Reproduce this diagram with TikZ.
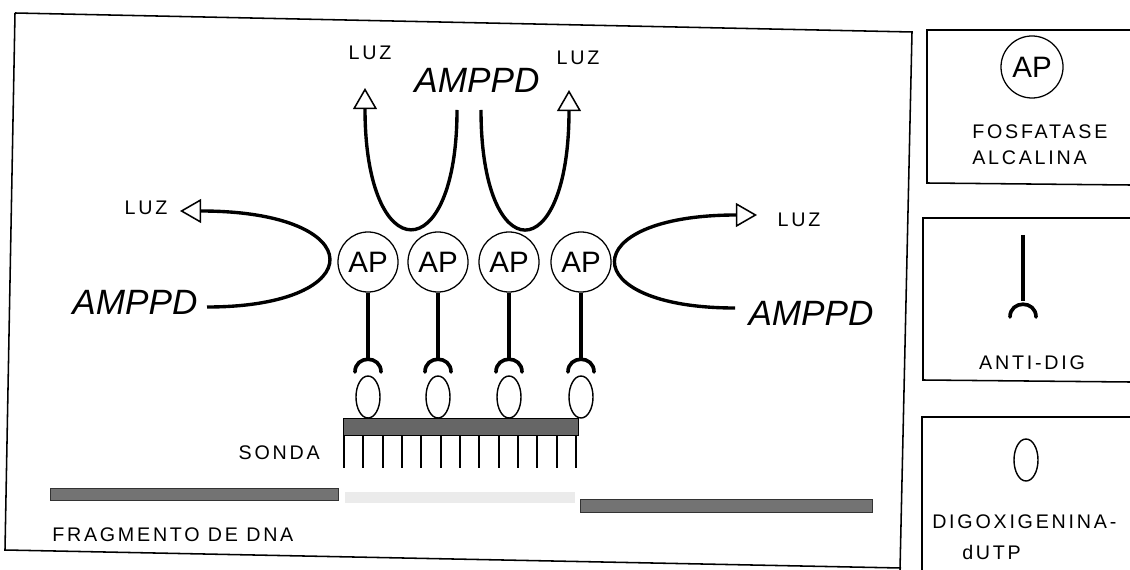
\documentclass[tikz,border=0pt]{standalone}
\usepackage{fontspec}
\setmainfont{Liberation Sans}
\newfontfamily\lblfont[LetterSpace=14]{Liberation Sans}
\usetikzlibrary{arrows.meta,positioning,shapes.geometric}

\begin{document}
\begin{tikzpicture}[x=0.025cm,y=-0.025cm,>={Triangle[open,length=15pt,width=17pt,line width=1.1pt]},
  ap/.style={circle,draw,line width=0.9pt,minimum size=1.5cm,inner sep=0pt,font=\fontsize{21}{21}\selectfont},
  dig/.style={ellipse,draw,line width=1pt,minimum width=0.6cm,minimum height=1.05cm,inner sep=0pt},
  lbl/.style={inner sep=0pt,font=\lblfont\fontsize{14}{19}\selectfont},
  sub/.style={inner sep=0pt,font=\fontsize{25}{25}\selectfont\itshape},
  wire/.style={line width=2.4pt},
  cup/.style={line width=2.6pt,line cap=round}]
\useasboundingbox (0,0) rectangle (1130,570);
% frames
\draw[line width=1.1pt] (15,13) -- (912,32) -- (900,570);
\draw[line width=1.1pt] (15,13) -- (5,550) -- (901,568);
\draw[line width=1.1pt] (1130,30) -- (927,30) -- (927,183) -- (1130,185);
\draw[line width=1.1pt] (1130,218) -- (923,218) -- (923,380) -- (1130,382);
\draw[line width=1.1pt] (1130,417) -- (922,417) -- (922,570);
% enzyme, antibody, label
\foreach \i/\x in {1/368,2/438,3/509,4/581}{
  \node[ap] (ap\i) at (\x,262) {AP};
  \coordinate (ab\i) at (\x,358);
  \draw[wire] (ap\i) -- (ab\i);
  \draw[cup] ({\x-13},372) .. controls ({\x-13},355) and ({\x+13},355) .. ({\x+13},372);
  \node[dig] (dig\i) at (\x,397) {};
}
% probe
\fill[black!60,draw=black] (343,418) rectangle (578,435);
\foreach \k in {0,...,12}
  \draw[line width=1.4pt] ({344+\k*19.33},435) -- ++(0,33);
\node[lbl,anchor=east] (sonda) at (320,453) {SONDA};
% DNA
\fill[black!55,draw=black!80] (50,488) rectangle (338,500);
\fill[black!8] (345,492) rectangle (575,503);
\fill[black!55,draw=black!80] (580,499) rectangle (872,512);
\node[lbl,anchor=west] (frag) at (52,535) {FRAGMENTO DE DNA};
% substrate and light
\node[sub] (amppdL) at (135,302) {AMPPD};
\node[sub] (amppdT) at (477,80) {AMPPD};
\node[sub] (amppdR) at (811,313) {AMPPD};
\node[lbl] (luzL) at (146,208) {LUZ};
\node[lbl] (luzT1) at (370,53) {LUZ};
\node[lbl] (luzT2) at (578,58) {LUZ};
\node[lbl] (luzR) at (799,220) {LUZ};
\coordinate (sL) at (207,307);
\coordinate (tL) at (180,211);
\coordinate (sT1) at (457,110);
\coordinate (tT1) at (365,88);
\coordinate (sT2) at (481,110);
\coordinate (tT2) at (569,90);
\coordinate (sR) at (735,308);
\coordinate (tR) at (757,215);
\draw[wire,->] (sL) .. controls (372,307) and (372,211) .. (tL);
\draw[wire,->] (sT1) .. controls (457,270) and (365,270) .. (tT1);
\draw[wire,->] (sT2) .. controls (481,270) and (569,270) .. (tT2);
\draw[wire,->] (sR) .. controls (574,308) and (574,215) .. (tR);
% key
\node[ap,minimum size=1.55cm] (apkey) at (1032,67) {AP};
\node[lbl,align=left,anchor=north west] (fosf) at (972,124) {FOSFATASE\\ALCALINA};
\coordinate (abtop) at (1023,235);
\coordinate (abbot) at (1023,301);
\draw[wire] (abtop) -- (abbot);
\draw[cup] (1010,317) .. controls (1010,300) and (1036,300) .. (1036,317);
\node[lbl] (antidig) at (1032,363) {ANTI-DIG};
\node[dig] (digkey) at (1026,460) {};
\node[lbl,anchor=west] (digox) at (932,522) {DIGOXIGENINA-};
\node[lbl,anchor=west] (dutp) at (962,552) {dUTP};
\end{tikzpicture}
\end{document}
